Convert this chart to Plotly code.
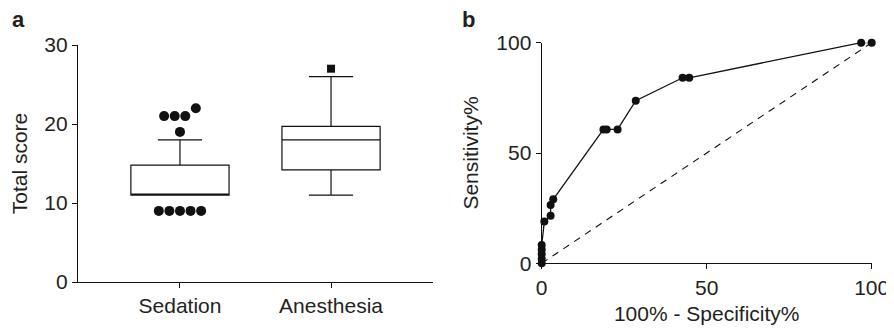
import plotly.graph_objects as go

# ---- Panel a data ----
groups = ["Sedation", "Anesthesia"]
q1 = [11.0, 14.2]
median = [11.0, 18.0]
q3 = [14.8, 19.7]
lower_fence = [11.0, 11.0]
upper_fence = [18.0, 26.0]
sed_outlier_rows = [[9, 9, 9, 9, 9], [19], [21, 21, 21, 22]]
ane_outlier_rows = [[27]]

# ---- Panel b data (ROC) ----
fpr = [0, 0, 0, 0, 0, 0.8, 2.7, 2.7, 3.5, 18.7, 19.7, 23.0, 28.5, 42.7, 44.7, 96.8, 100]
tpr = [0, 2.1, 4.2, 6.3, 8.3, 18.9, 21.5, 26.4, 29.0, 60.7, 60.7, 60.7, 73.7, 84.1, 84.1, 100, 100]
ref_line = [0, 100]

FONT = "Liberation Sans, Arial, sans-serif"
TXT = "#231f20"
OFF = 8  # page body margin
W, H = 894 - OFF, 328 - OFF

fig = go.Figure()

for i, g in enumerate(groups):
    fig.add_trace(go.Box(
        x=[i], q1=[q1[i]], median=[median[i]], q3=[q3[i]],
        lowerfence=[lower_fence[i]], upperfence=[upper_fence[i]],
        width=0.65, whiskerwidth=0.45, boxpoints=False,
        fillcolor="white", line=dict(color="#111", width=1.2),
        xaxis="x", yaxis="y", showlegend=False, hoverinfo="skip"))

spacing = 0.07
def spread(rows, center):
    xs, ys = [], []
    for row in rows:
        n = len(row)
        for k, v in enumerate(row):
            xs.append(center + (k - (n - 1) / 2) * spacing)
            ys.append(v)
    return xs, ys

sx, sy = spread(sed_outlier_rows, 0)
fig.add_trace(go.Scatter(x=sx, y=sy, mode="markers", xaxis="x", yaxis="y",
                         marker=dict(symbol="circle", size=10, color="#111"),
                         showlegend=False, cliponaxis=False))
ax, ay = spread(ane_outlier_rows, 1)
fig.add_trace(go.Scatter(x=ax, y=ay, mode="markers", xaxis="x", yaxis="y",
                         marker=dict(symbol="square", size=8, color="#111"),
                         showlegend=False, cliponaxis=False))

# Panel b
fig.add_trace(go.Scatter(x=ref_line, y=ref_line, mode="lines", xaxis="x2", yaxis="y2",
                         line=dict(color="#111", width=1.1, dash="7px,6px"),
                         showlegend=False, cliponaxis=False))
fig.add_trace(go.Scatter(x=fpr, y=tpr, mode="lines+markers", xaxis="x2", yaxis="y2",
                         line=dict(color="#111", width=1.3),
                         marker=dict(size=8, color="#111"),
                         showlegend=False, cliponaxis=False))

def dom_x(a, b):
    return [(a - OFF) / W, (b - OFF) / W]
def dom_y(top, bottom):
    return [(H - (bottom - OFF)) / H, (H - (top - OFF)) / H]

axis_common = dict(showgrid=False, zeroline=False, showline=True, linecolor="#111",
                   linewidth=1.3, ticks="outside", ticklen=5, tickwidth=1.3,
                   tickcolor="#111", tickfont=dict(family=FONT, size=21, color=TXT),
                   automargin=False)
title_font = dict(family=FONT, size=21, color=TXT)

fig.update_layout(
    width=W, height=H, margin=dict(l=0, r=0, t=0, b=0),
    paper_bgcolor="white", plot_bgcolor="white",
    font=dict(family=FONT, size=21, color=TXT),
    xaxis=dict(domain=dom_x(78, 433), range=[-0.675, 1.675], tickvals=[0, 1],
               ticktext=groups, anchor="y", **axis_common),
    yaxis=dict(domain=dom_y(45, 282), range=[0, 30], tickvals=[0, 10, 20, 30],
               anchor="x", title=dict(text="Total score", standoff=13, font=title_font),
               **axis_common),
    xaxis2=dict(domain=dom_x(541.7, 871.7), range=[0, 100], tickvals=[0, 50, 100],
                anchor="y2", title=dict(text="100% - Specificity%", standoff=8,
                                        font=title_font),
                **axis_common),
    yaxis2=dict(domain=dom_y(42.7, 263.3), range=[0, 100], tickvals=[0, 50, 100],
                anchor="x2", title=dict(text="Sensitivity%", standoff=11, font=title_font),
                **axis_common),
    annotations=[
        dict(text="<b>a</b>", x=(10 - OFF) / W, y=1 - (20 - OFF) / H, xref="paper",
             yref="paper", xanchor="left", yanchor="middle", showarrow=False,
             font=dict(family=FONT, size=22, color=TXT)),
        dict(text="<b>b</b>", x=(460 - OFF) / W, y=1 - (20 - OFF) / H, xref="paper",
             yref="paper", xanchor="left", yanchor="middle", showarrow=False,
             font=dict(family=FONT, size=22, color=TXT)),
    ],
)

fig.write_html("out.html")
